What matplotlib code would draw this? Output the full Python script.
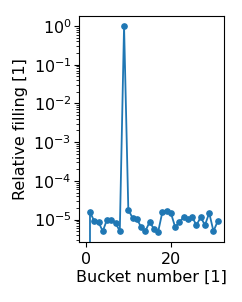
import matplotlib
matplotlib.use("Agg")
import matplotlib.pyplot as plt
import numpy as np

# bucket index and relative filling per bucket
buckets = np.arange(32)
filling = [0.0, 1.57e-5, 0.91e-5, 0.86e-5, 0.50e-5, 1.0e-5, 1.0e-5, 0.82e-5,
           0.50e-5, 1.0, 1.8e-5, 1.1e-5, 1.05e-5, 0.64e-5, 0.50e-5, 0.87e-5,
           0.58e-5, 0.48e-5, 1.57e-5, 1.7e-5, 1.48e-5, 0.64e-5, 0.87e-5,
           1.15e-5, 1.05e-5, 1.15e-5, 0.72e-5, 1.15e-5, 0.72e-5, 1.48e-5,
           0.50e-5, 0.91e-5]

plt.rcParams['font.size'] = 11.5

fig, ax = plt.subplots(figsize=(2.42, 3.02), dpi=100)
ax.plot(buckets, filling, 'o-', color='#1f77b4', markersize=3.8, linewidth=1.3)
ax.set_yscale('log')
ax.set_xlabel('Bucket number [1]', labelpad=2)
ax.set_ylabel('Relative filling [1]')
ax.tick_params(labelsize=11.5)
ax.tick_params(axis='y', pad=2)

fig.subplots_adjust(left=0.327, right=0.927, top=0.948, bottom=0.198)
fig.savefig('out.png', dpi=100)
